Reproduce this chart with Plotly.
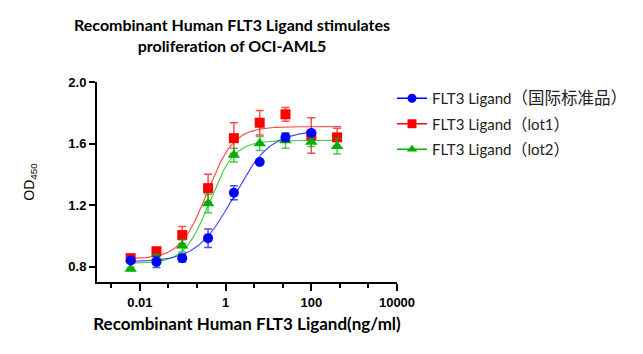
import numpy as np
import plotly.graph_objects as go

# ---------------- data ----------------
conc = [0.006103515625, 0.0244140625, 0.09765625, 0.390625, 1.5625, 6.25, 25, 100, 400]

std_name = "FLT3 Ligand<span style=\"font-size:16.5px\">（国际标准品）</span>"
lot1_name = "FLT3 Ligand<span style=\"font-size:16px\">（</span>lot1<span style=\"font-size:16px\">）</span>"
lot2_name = "FLT3 Ligand<span style=\"font-size:16px\">（</span>lot2<span style=\"font-size:16px\">）</span>"

std_conc = conc[:8]
std_od = [0.84, 0.83, 0.855, 0.985, 1.28, 1.48, 1.64, 1.668]
std_err = [0.01, 0.035, 0.025, 0.06, 0.045, 0.012, 0.025, 0.02]

lot1_od = [0.855, 0.9, 1.005, 1.31, 1.635, 1.735, 1.79, 1.652, 1.64]
lot1_err = [0.012, 0.02, 0.055, 0.09, 0.1, 0.08, 0.045, 0.115, 0.06]

lot2_od = [0.785, 0.855, 0.935, 1.21, 1.525, 1.6, 1.62, 1.61, 1.582]
lot2_err = [0.01, 0.02, 0.04, 0.06, 0.045, 0.045, 0.05, 0.03, 0.05]

# 4-parameter logistic fit parameters (bottom, top, EC50, hill)
std_fit = [0.83, 1.685, 1.55, 1.02]
lot1_fit = [0.85, 1.71, 0.37, 1.4]
lot2_fit = [0.82, 1.62, 0.42, 1.5]

x_ticks = [0.01, 1, 100, 10000]
x_ticktext = ["0.01", "1", "100", "10000"]
y_ticks = [0.8, 1.2, 1.6, 2.0]
y_ticktext = ["0.8", "1.2", "1.6", "2.0"]


def four_pl(x, p):
    b, t, ec, h = p
    x = np.asarray(x)
    return b + (t - b) / (1 + (ec / x) ** h)


BLUE = "#0000FF"
RED = "#FF0000"
GREEN = "#00B000"

fig = go.Figure()

series = [
    (lot1_name, conc, lot1_od, lot1_err, lot1_fit, RED, "rgba(255,0,0,0.7)", "square", 2, 500),
    (lot2_name, conc, lot2_od, lot2_err, lot2_fit, GREEN, "rgba(0,176,0,0.7)", "triangle-up", 3, 500),
    (std_name, std_conc, std_od, std_err, std_fit, BLUE, "rgba(0,0,255,0.7)", "circle", 1, 125),
]

for name, xs, ys, es, fit, col, lcol, sym, rank, xmax in series:
    xc = np.logspace(np.log10(0.005), np.log10(xmax), 300)
    fig.add_trace(go.Scatter(x=xc, y=four_pl(xc, fit), mode="lines",
                             line=dict(color=lcol, width=1.2),
                             showlegend=False, hoverinfo="skip"))
for name, xs, ys, es, fit, col, lcol, sym, rank, xmax in series:
    fig.add_trace(go.Scatter(
        x=xs, y=ys, mode="markers",
        marker=dict(color=col, symbol=sym, size=10 if sym != "triangle-up" else 11),
        error_y=dict(type="data", array=es, visible=True, color=lcol, thickness=1.5, width=4),
        showlegend=False))

for name, xs, ys, es, fit, col, lcol, sym, rank, xmax in sorted(series, key=lambda s: s[8]):
    fig.add_trace(go.Scatter(
        x=[None], y=[None], mode="lines+markers", name=name,
        legendgroup=str(rank),
        line=dict(color=col, width=1.5),
        marker=dict(color=col, symbol=sym, size=9)))

fig.update_layout(
    width=643, height=354,
    margin=dict(l=97, r=246, t=82, b=72, autoexpand=False),
    paper_bgcolor="white", plot_bgcolor="white",
    title=dict(text="Recombinant Human FLT3 Ligand stimulates<br>proliferation of OCI-AML5",
               x=232 / 643, xanchor="center", y=1 - 31 / 354, yanchor="top",
               font=dict(family="Lato, Arial", size=16, color="black", weight="bold")),
    legend=dict(x=392 / 643, xref="container", y=1 - 82 / 354, yref="container",
                yanchor="top", xanchor="left",
                font=dict(family="Lato, 'Noto Sans CJK SC'", size=15, color="#222"),
                itemwidth=30, traceorder="grouped", tracegroupgap=3,
                bgcolor="rgba(0,0,0,0)"),
    showlegend=True,
)

fig.update_xaxes(
    type="log", range=[-3, 4],
    tickvals=x_ticks, ticktext=x_ticktext,
    ticks="outside", ticklen=7, tickwidth=1.5, tickcolor="black",
    minor=dict(tickvals=[10 ** v for v in [-8/3, -4/3, -2/3, 2/3, 4/3, 8/3, 10/3]],
               ticks="outside", ticklen=4, tickwidth=1.5, tickcolor="black"),
    showline=True, linecolor="black", linewidth=2,
    showgrid=False, zeroline=False,
    tickfont=dict(family="Liberation Sans, Arial", size=13, color="black", weight="bold"),
    title=dict(text="Recombinant Human FLT3 Ligand(ng/ml)", standoff=10,
               font=dict(family="Lato, Arial", size=17, color="black", weight="bold")),
)
fig.update_yaxes(
    range=[0.7, 2.0],
    tickvals=y_ticks, ticktext=y_ticktext,
    ticks="outside", ticklen=6, tickwidth=1.5, tickcolor="black",
    showline=True, linecolor="black", linewidth=2,
    showgrid=False, zeroline=False,
    tickfont=dict(family="Liberation Sans, Arial", size=13, color="black", weight="bold"),
    title=dict(text="OD<sub>450</sub>", standoff=30,
               font=dict(family="Liberation Sans, Arial", size=14, color="black")),
)

fig.write_html("out.html")
